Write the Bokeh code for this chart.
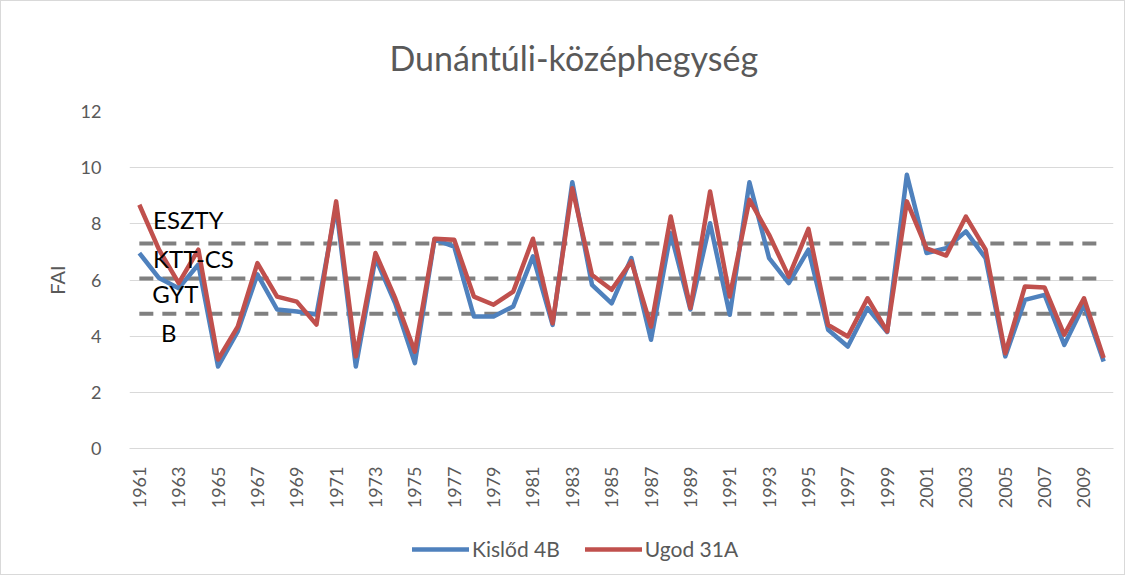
from bokeh.plotting import figure
from bokeh.layouts import column
from bokeh.models import ColumnDataSource, FixedTicker, Legend, LegendItem, Label, Title
from bokeh.embed import file_html
from bokeh.resources import INLINE
import math

years = list(range(1961, 2011))
kislod = [6.96, 6.07, 5.71, 6.55, 2.92, 4.17, 6.2, 4.95, 4.88, 4.77,
          8.6, 2.92, 6.78, 5.17, 3.04, 7.45, 7.19, 4.7, 4.7, 5.06,
          6.84, 4.4, 9.48, 5.83, 5.17, 6.78, 3.87, 7.67, 4.95, 8.02,
          4.76, 9.48, 6.78, 5.89, 7.08, 4.23, 3.63, 5.0, 4.15, 9.75,
          6.96, 7.13, 7.73, 6.78, 3.28, 5.29, 5.47, 3.69, 5.12, 3.1]
ugod = [8.68, 7.08, 5.89, 7.08, 3.17, 4.34, 6.6, 5.41, 5.23, 4.41,
        8.8, 3.28, 6.96, 5.35, 3.45, 7.47, 7.43, 5.41, 5.12, 5.59,
        7.47, 4.46, 9.27, 6.18, 5.65, 6.66, 4.34, 8.26, 5.0, 9.15,
        5.41, 8.86, 7.61, 6.12, 7.82, 4.4, 3.99, 5.35, 4.17, 8.8,
        7.13, 6.87, 8.26, 7.08, 3.39, 5.77, 5.73, 4.05, 5.35, 3.22]
thresholds = [7.3, 6.05, 4.8]
zone_labels = ["ESZTY", "KTT-CS", "GYT", "B"]
zone_label_y = [8.15, 6.78, 5.53, 4.14]
zone_label_x = [1961.7, 1961.7, 1961.65, 1962.1]
title_text = "Dunántúli-középhegység"
series_names = ["Kislőd 4B", "Ugod 31A"]
series_colors = ["#4F81BD", "#C0504D"]
y_ticks = [0, 2, 4, 6, 8, 10, 12]
x_ticks = years[::2]

FONT = "Lato"
TXT = "#595959"

src = ColumnDataSource(dict(year=years, kislod=kislod, ugod=ugod))

p = figure(width=1123, height=520, output_backend="svg", toolbar_location=None,
           x_range=(1960.5, 2010.5), y_range=(0, 12),
           min_border_left=128, min_border_right=11, min_border_top=110, min_border_bottom=73)
p.outline_line_color = None
p.background_fill_color = "white"
p.border_fill_color = "white"

p.title = Title(text=title_text, align="left", offset=260, text_font=FONT,
                text_font_size="34px", text_color=TXT, text_font_style="normal",
                standoff=67)

p.xgrid.grid_line_color = None
p.ygrid.grid_line_color = "#d9d9d9"
p.ygrid.grid_line_width = 1
p.yaxis.ticker = FixedTicker(ticks=y_ticks)
p.xaxis.ticker = FixedTicker(ticks=x_ticks)

for ax in (p.xaxis[0], p.yaxis[0]):
    ax.major_tick_line_color = None
    ax.minor_tick_line_color = None
    ax.major_label_text_font = FONT
    ax.major_label_text_font_size = "18px"
    ax.major_label_text_color = TXT
p.yaxis.axis_line_color = None
p.xaxis.axis_line_color = "#d9d9d9"
p.xaxis.major_label_orientation = math.pi / 2
p.xaxis.major_label_standoff = 12
p.yaxis.major_label_standoff = 22
p.yaxis.axis_label = "FAI"
p.yaxis.axis_label_text_font = FONT
p.yaxis.axis_label_text_font_size = "20px"
p.yaxis.axis_label_text_font_style = "normal"
p.yaxis.axis_label_text_color = TXT
p.yaxis.axis_label_standoff = 9

for t in thresholds:
    p.line(x=[years[0], years[-1]], y=[t, t], line_color="#808080", line_width=4,
           line_dash="14 9")

p.line("year", "kislod", source=src, line_color=series_colors[0], line_width=4.5, line_join="round")
p.line("year", "ugod", source=src, line_color=series_colors[1], line_width=4.5, line_join="round")

for txt, lx, ly in zip(zone_labels, zone_label_x, zone_label_y):
    p.add_layout(Label(x=lx, y=ly, text=txt, text_font=FONT, text_font_size="24px",
                       text_color="black", text_baseline="middle", text_align="left"))

# legend strip below the chart (series drawn outside its view; only the legend shows)
pl = figure(width=1123, height=53, output_backend="svg", toolbar_location=None,
            x_range=(0, 1), y_range=(0, 1), min_border=0)
pl.axis.visible = False
pl.grid.grid_line_color = None
pl.outline_line_color = None
keys = [pl.line("year", col, source=src, line_color=c, line_width=4.5, line_cap="round")
        for col, c in zip(["kislod", "ugod"], series_colors)]
legend = Legend(items=[LegendItem(label=n, renderers=[k]) for n, k in zip(series_names, keys)],
                orientation="horizontal", location=(283, 13),
                glyph_width=57, label_standoff=3, spacing=25,
                label_text_font=FONT, label_text_font_size="21px", label_text_color=TXT,
                border_line_color=None, background_fill_alpha=0, padding=0, margin=0)
pl.add_layout(legend, "center")

layout = column(p, pl, spacing=0,
                styles={"border": "1px solid #d9d9d9", "background-color": "white"})

open("out.html", "w").write(file_html(layout, INLINE))
